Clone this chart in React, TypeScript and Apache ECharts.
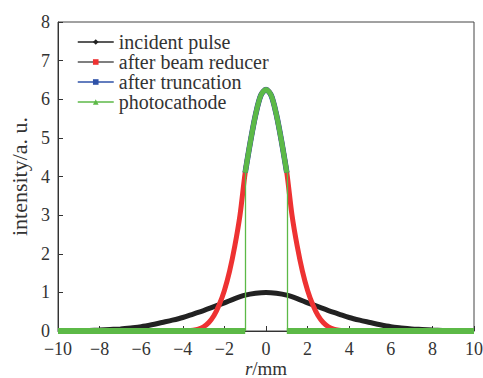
import React, { useEffect, useRef } from "react";
import * as echarts from "echarts";

// incident pulse, r = -10..10 step 0.5
const incidentR = [
  -10, -9.5, -9, -8.5, -8, -7.5, -7, -6.5, -6, -5.5, -5, -4.5, -4, -3.5, -3, -2.5, -2, -1.5, -1, -0.5,
  0, 0.5, 1, 1.5, 2, 2.5, 3, 3.5, 4, 4.5, 5, 5.5, 6, 6.5, 7, 7.5, 8, 8.5, 9, 9.5, 10,
];
const incidentI = [
  0, 0.005, 0.01, 0.015, 0.025, 0.04, 0.055, 0.08, 0.11, 0.16, 0.22, 0.28, 0.35, 0.44, 0.53, 0.63, 0.73, 0.84, 0.93, 0.98,
  1.0, 0.98, 0.93, 0.84, 0.73, 0.63, 0.53, 0.44, 0.35, 0.28, 0.22, 0.16, 0.11, 0.08, 0.055, 0.04, 0.025, 0.015, 0.01, 0.005, 0,
];

// after beam reducer
const reducerR = [
  -10, -4, -3.75, -3.5, -3.25, -3, -2.75, -2.5, -2.25, -2, -1.75, -1.5, -1.25, -1, -0.75, -0.5, -0.25,
  0, 0.25, 0.5, 0.75, 1, 1.25, 1.5, 1.75, 2, 2.25, 2.5, 2.75, 3, 3.25, 3.5, 3.75, 4, 10,
];
const reducerI = [
  0, 0, 0.005, 0.02, 0.05, 0.11, 0.22, 0.4, 0.68, 1.05, 1.55, 2.2, 3.0, 4.1, 4.9, 5.6, 6.1,
  6.25, 6.1, 5.6, 4.9, 4.1, 3.0, 2.2, 1.55, 1.05, 0.68, 0.4, 0.22, 0.11, 0.05, 0.02, 0.005, 0, 0,
];

// after truncation / photocathode (central part, |r| <= 1)
const truncR = [-1, -0.75, -0.5, -0.25, 0, 0.25, 0.5, 0.75, 1];
const truncI = [4.1, 4.9, 5.6, 6.1, 6.25, 6.1, 5.6, 4.9, 4.1];
// zero parts outside the aperture
const baseLeftR = [-10, -1];
const baseRightR = [1, 10];
const baseI = [0, 0];

const xTicks = [-10, -8, -6, -4, -2, 0, 2, 4, 6, 8, 10];
const yTicks = [0, 1, 2, 3, 4, 5, 6, 7, 8];

const zip = (xs: number[], ys: number[]) => xs.map((x, i) => [x, ys[i]]);

const FONT = "Liberation Serif";
const BLACK = "#222222";
const RED = "#ee3232";
const BLUE = "#2f52a8";
const GREEN = "#5cb947";

export default function App() {
  const ref = useRef<HTMLDivElement>(null);
  useEffect(() => {
    if (!ref.current) return;
    const chart = echarts.init(ref.current, undefined, { renderer: "svg" });
    chart.setOption({
      animation: false,
      backgroundColor: "#ffffff",
      textStyle: { fontFamily: FONT },
      grid: {
        left: 58,
        right: 9,
        top: 22,
        bottom: 47,
        show: true,
        borderColor: "#444",
        borderWidth: 1,
        containLabel: false,
        outerBoundsMode: "none",
      },
      legend: {
        orient: "vertical",
        left: 72,
        top: 27,
        itemWidth: 36,
        itemHeight: 7,
        itemGap: 0,
        textStyle: { fontFamily: FONT, fontSize: 20, color: "#333", lineHeight: 20 },
        data: [
          { name: "incident pulse", itemStyle: { color: BLACK }, lineStyle: { color: BLACK, width: 1.5 } },
          { name: "after beam reducer", itemStyle: { color: RED }, lineStyle: { color: "#555", width: 1.5 } },
          { name: "after truncation", itemStyle: { color: BLUE }, lineStyle: { color: BLUE, width: 1.5 } },
          { name: "photocathode", itemStyle: { color: GREEN }, lineStyle: { color: GREEN, width: 1.5 } },
        ],
      },
      xAxis: {
        type: "value",
        min: xTicks[0],
        max: xTicks[xTicks.length - 1],
        interval: 2,
        name: "{i|r}/mm",
        nameLocation: "middle",
        nameGap: 29,
        nameMoveOverlap: false,
        nameTextStyle: {
          fontFamily: FONT,
          fontSize: 19,
          color: "#333",
          lineHeight: 16,
          rich: { i: { fontStyle: "italic", fontFamily: FONT, fontSize: 19, lineHeight: 16, color: "#333" } },
        },
        axisLine: { lineStyle: { color: "#333", width: 1 } },
        axisTick: { inside: true, length: 5, lineStyle: { color: "#333" } },
        axisLabel: {
          fontFamily: FONT,
          fontSize: 18,
          lineHeight: 14,
          color: "#333",
          margin: 11,
          formatter: (v: number) => (v < 0 ? "\u2212" + Math.abs(v) : String(v)),
        },
        splitLine: { show: false },
      },
      yAxis: {
        type: "value",
        min: yTicks[0],
        max: yTicks[yTicks.length - 1],
        interval: 1,
        name: "intensity/a. u.",
        nameLocation: "middle",
        nameGap: 28,
        nameMoveOverlap: false,
        nameTextStyle: { fontFamily: FONT, fontSize: 22, color: "#333" },
        axisLine: { show: true, onZero: false, lineStyle: { color: "#333", width: 1 } },
        axisTick: { show: true, inside: true, length: 5, lineStyle: { color: "#333" } },
        axisLabel: { fontFamily: FONT, fontSize: 18, lineHeight: 14, color: "#333", margin: 8 },
        splitLine: { show: false },
      },
      series: [
        {
          name: "incident pulse",
          type: "line",
          data: zip(incidentR, incidentI),
          smooth: 0.3,
          symbol: "diamond",
          showSymbol: false,
          lineStyle: { color: BLACK, width: 5 },
          itemStyle: { color: BLACK },
          z: 2,
        },
        {
          name: "after beam reducer",
          type: "line",
          data: zip(reducerR, reducerI),
          smooth: 0.3,
          symbol: "rect",
          showSymbol: false,
          lineStyle: { color: RED, width: 5 },
          itemStyle: { color: RED },
          z: 3,
        },
        {
          name: "after truncation",
          type: "line",
          data: zip(truncR, truncI),
          smooth: 0.3,
          symbol: "rect",
          showSymbol: false,
          lineStyle: { color: BLUE, width: 5.6 },
          itemStyle: { color: BLUE },
          z: 4,
        },
        {
          name: "photocathode",
          type: "line",
          data: zip(truncR, truncI),
          smooth: 0.3,
          symbol: "triangle",
          showSymbol: false,
          lineStyle: { color: GREEN, width: 5 },
          itemStyle: { color: GREEN },
          z: 5,
          markLine: {
            silent: true,
            symbol: "none",
            label: { show: false },
            lineStyle: { color: GREEN, width: 1.3, type: "solid" },
            data: [
              [{ coord: [truncR[0], 0] }, { coord: [truncR[0], truncI[0]] }],
              [{ coord: [truncR[truncR.length - 1], 0] }, { coord: [truncR[truncR.length - 1], truncI[truncI.length - 1]] }],
            ],
          },
        },
        {
          name: "photocathode base left",
          type: "line",
          data: zip(baseLeftR, baseI),
          symbol: "none",
          lineStyle: { color: GREEN, width: 6 },
          z: 5,
        },
        {
          name: "photocathode base right",
          type: "line",
          data: zip(baseRightR, baseI),
          symbol: "none",
          lineStyle: { color: GREEN, width: 6 },
          z: 5,
        },
      ],
    });
    return () => chart.dispose();
  }, []);
  return <div ref={ref} style={{ width: 483, height: 378, position: "fixed", left: 0, top: 0 }} />;
}
